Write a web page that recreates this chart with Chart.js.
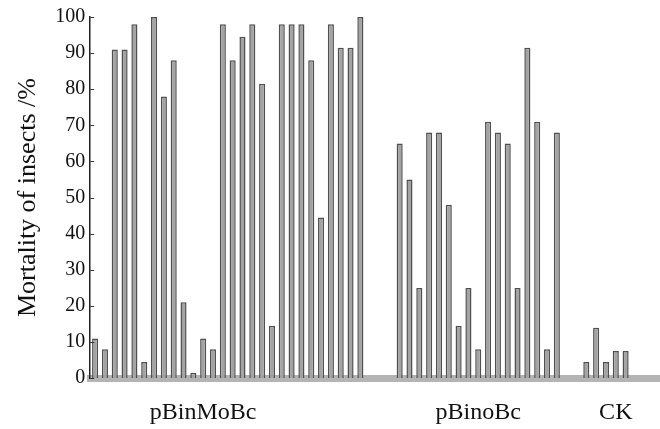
<!DOCTYPE html>
<html>
<head>
  <meta charset="UTF-8" />
  <title>Mortality of insects</title>
  <script src="https://cdn.jsdelivr.net/npm/chart.js"></script>
  <style>
    body {
      margin: 0;
      background-color: #ffffff;
    }
    #wrap {
      width: 660px;
      height: 429px;
    }
  </style>
</head>
<body>
  <div id="wrap">
    <canvas id="grafico" width="660" height="429"></canvas>
  </div>

  <script>
    // mortality (%) per line
    const pBinMoBc = [11, 8, 91, 91, 98, 4.5, 100, 78, 88, 21, 1.5, 11, 8, 98, 88, 94.5, 98, 81.5, 14.5, 98, 98, 98, 88, 44.5, 98, 91.5, 91.5, 100];
    const pBinoBc = [65, 55, 25, 68, 68, 48, 14.5, 25, 8, 71, 68, 65, 25, 91.5, 71, 8, 68];
    const CK = [4.5, 14, 4.5, 7.5, 7.5];

    const groupNames = ['pBinMoBc', 'pBinoBc', 'CK'];
    const groupLabelAt = [11, 39, 53];   // slot under which each group name sits
    const yTicks = [0, 10, 20, 30, 40, 50, 60, 70, 80, 90, 100];

    // empty slots between groups
    const gapAfterMoBc = 3;
    const gapAfterBinoBc = 2;
    const gapAfterCK = 3;

    const valores = [].concat(
      pBinMoBc,
      new Array(gapAfterMoBc).fill(null),
      pBinoBc,
      new Array(gapAfterBinoBc).fill(null),
      CK,
      new Array(gapAfterCK).fill(null)
    );
    const categorias = valores.map((v, i) => String(i + 1));

    const serif = '"Liberation Serif", "DejaVu Serif", serif';

    // short tick marks pointing into the plot from the y axis
    const ticksInternos = {
      id: 'ticksInternos',
      afterDraw(chart) {
        const y = chart.scales.y;
        const c = chart.ctx;
        c.save();
        c.strokeStyle = '#333';
        c.lineWidth = 1;
        yTicks.forEach(v => {
          const py = Math.round(y.getPixelForValue(v)) + 0.5;
          c.beginPath();
          c.moveTo(y.right, py);
          c.lineTo(y.right + 4, py);
          c.stroke();
        });
        c.restore();
      }
    };

    const ctx = document.getElementById('grafico').getContext('2d');
    const grafico = new Chart(ctx, {
      type: 'bar',
      data: {
        labels: categorias,
        datasets: [{
          label: 'Mortality',
          data: valores,
          backgroundColor: '#a3a3a3',
          borderColor: '#505050',
          borderWidth: 1.5,
          barPercentage: 0.62,
          categoryPercentage: 1.0
        }]
      },
      options: {
        responsive: false,
        animation: false,
        layout: {
          padding: { top: 0, right: 0, left: 13, bottom: 2 }
        },
        plugins: {
          legend: { display: false },
          tooltip: { enabled: false }
        },
        scales: {
          x: {
            grid: {
              display: true,
              drawOnChartArea: false,
              drawTicks: true,
              tickLength: 20,
              color: 'rgba(0,0,0,0)'
            },
            border: { color: '#b4b4b4', width: 7 },
            ticks: {
              autoSkip: false,
              maxRotation: 0,
              padding: 0,
              color: '#111',
              font: { family: serif, size: 24 },
              callback: function (val, idx) {
                const k = groupLabelAt.indexOf(idx);
                return k >= 0 ? groupNames[k] : '';
              }
            }
          },
          y: {
            min: 0,
            max: 100,
            afterBuildTicks: function (axis) {
              axis.ticks = yTicks.map(v => ({ value: v }));
            },
            grid: { display: false, drawTicks: false },
            border: { color: '#222', width: 1.5 },
            ticks: {
              padding: 5,
              color: '#111',
              font: { family: serif, size: 20 }
            },
            title: {
              display: true,
              text: 'Mortality of insects /%',
              color: '#111',
              padding: { top: 0, bottom: 6 },
              font: { family: serif, size: 26 }
            }
          }
        }
      },
      plugins: [ticksInternos]
    });
  </script>
</body>
</html>
